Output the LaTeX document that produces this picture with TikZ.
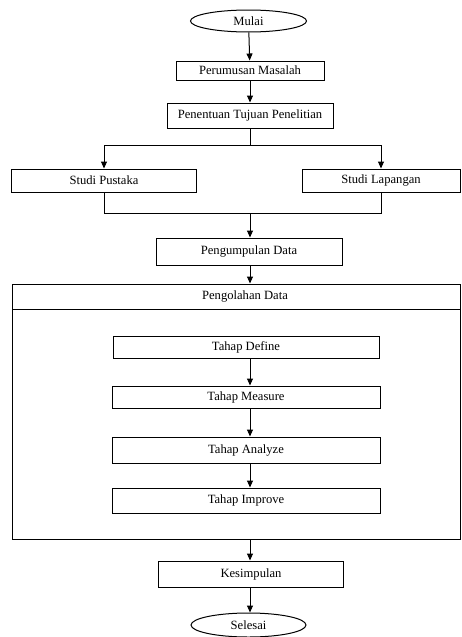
\documentclass[tikz,border=0pt]{standalone}
\usepackage{fontspec}
\setmainfont{Liberation Serif}
\usepackage{tikz}
\usetikzlibrary{shapes.geometric}
\usetikzlibrary{arrows.meta}

\begin{document}
\begin{tikzpicture}[x=1pt, y=-1pt, every path/.style={line width=1pt},
    kotak/.style={rectangle, draw, inner sep=0pt, font=\fontsize{12.6}{14}\selectfont},
    ujung/.style={ellipse, draw, inner sep=0pt, minimum width=116, minimum height=22, font=\fontsize{12.6}{14}\selectfont},
    panah/.style={-{Triangle[length=7pt, width=6pt]}}]

    \useasboundingbox (0,0) rectangle (461,637);

    \node[ujung] (mulai) at (248.5,21) {Mulai};
    \node[kotak, minimum width=148, minimum height=19] (rumusan) at (250,70.5) {Perumusan Masalah};
    \node[kotak, minimum width=166, minimum height=25] (tujuan) at (250,115.5) {Penentuan Tujuan Penelitian};

    \node[kotak, minimum width=185, minimum height=23] (pustaka) at (104,180.5) {Studi Pustaka};
    \node[kotak, minimum width=158, minimum height=23] (lapangan) at (381,180.5) {Studi Lapangan};

    \node[kotak, minimum width=186, minimum height=27] (kumpul) at (249,251.5) {Pengumpulan Data};

    % kotak besar pengolahan data
    \node[kotak, minimum width=448, minimum height=25] (olah) at (236,296.5) {};
    \node[font=\fontsize{12.6}{14}\selectfont] (olahteks) at (245,296.5) {Pengolahan Data};
    \node[kotak, minimum width=448, minimum height=230] (olahisi) at (236,424) {};

    \node[kotak, minimum width=266, minimum height=22] (define) at (246,347) {Tahap Define};
    \node[kotak, minimum width=268, minimum height=22] (measure) at (246,397) {Tahap Measure};
    \node[kotak, minimum width=268, minimum height=26] (analyze) at (246,450) {Tahap Analyze};
    \node[kotak, minimum width=268, minimum height=25] (improve) at (246,500.5) {Tahap Improve};

    \node[kotak, minimum width=185, minimum height=26] (simpul) at (251,574) {Kesimpulan};
    \node[ujung, minimum width=115, minimum height=24] (selesai) at (248.5,625) {Selesai};

    \coordinate (cabang) at (250,145);
    \coordinate (gabung) at (250,213);

    \draw[panah] (mulai) -- (rumusan);
    \draw[panah] (rumusan) -- (tujuan);
    \draw (tujuan) -- (cabang);
    \draw[panah] (cabang) -| (pustaka.north);
    \draw[panah] (cabang) -| (lapangan.north);
    \draw (pustaka.south) |- (gabung);
    \draw (lapangan.south) |- (gabung);
    \draw[panah] (gabung) -- (gabung |- kumpul.north);
    \draw[panah] (gabung |- kumpul.south) -- (gabung |- olah.north);

    \draw[panah] ([xshift=4pt]define.south) -- ([xshift=4pt]measure.north);
    \draw[panah] ([xshift=4pt]measure.south) -- ([xshift=4pt]analyze.north);
    \draw[panah] ([xshift=4pt]analyze.south) -- ([xshift=4pt]improve.north);

    \draw[panah] (gabung |- olahisi.south) -- (gabung |- simpul.north);
    \draw[panah] (gabung |- simpul.south) -- (gabung |- selesai.north);

\end{tikzpicture}
\end{document}
